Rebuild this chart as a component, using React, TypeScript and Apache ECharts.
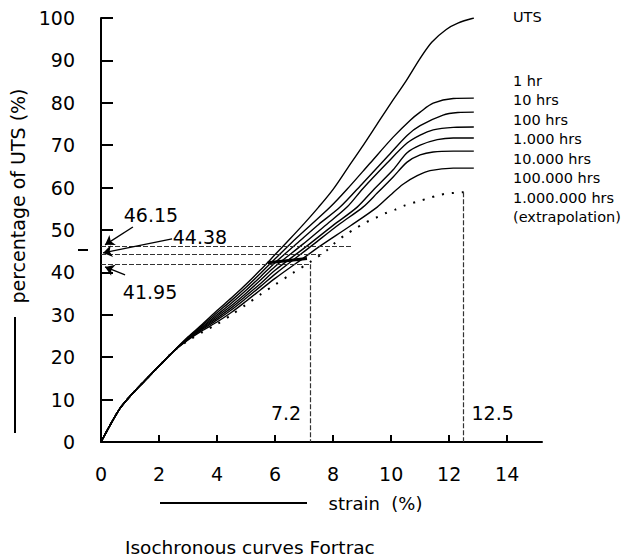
import React, { useEffect, useRef } from "react";
import * as echarts from "echarts";

// ---------- data ----------
const xTickValues = [0, 2, 4, 6, 8, 10, 12, 14];
const xMinorTicks = [2, 4, 6, 8, 10, 12, 14];
const yTickMarks = [10, 20, 30, 40, 50, 60, 70, 80, 90, 100];

const curveNames = ["UTS", "1 hr", "10 hrs", "100 hrs", "1.000 hrs", "10.000 hrs", "100.000 hrs", "1.000.000 hrs"];
const extrapolationNote = "(extrapolation)";

// common initial part of all curves [strain %, % of UTS]
const baseCurve = [[0, 0], [0.3, 3.8], [0.66, 8], [1, 10.8], [1.5, 14.4], [2, 17.9], [2.5, 21.4]];

const utsTail = [[3, 24.8], [3.5, 27.8], [4, 31], [4.5, 34], [5, 37.2], [5.5, 40.6], [6, 44.2], [6.5, 47.8], [7, 51.5], [7.5, 55.4], [8, 59.6], [8.5, 64.6], [9, 69.6], [9.5, 74.8], [10, 80], [10.5, 85], [11, 90.5], [11.4, 94.3], [11.9, 97.3], [12.3, 98.8], [12.85, 100]];
const hr1Tail = [[3, 24.6], [3.5, 27.5], [4, 30.5], [4.5, 33.4], [5, 36.5], [5.5, 39.8], [6, 43.2], [6.55, 46.9], [7.2, 51], [7.9, 55.4], [8.48, 59.6], [9.28, 65.8], [10.07, 71.9], [10.66, 75.9], [11, 77.8], [11.45, 79.9], [12.14, 81], [12.85, 81.1]];
const hr10Tail = [[3, 24.5], [3.5, 27.2], [4, 30], [4.5, 32.8], [5, 35.8], [5.5, 39], [6, 42.3], [6.75, 46.8], [7.5, 51.3], [8.24, 55.4], [9.03, 61.1], [9.86, 67.2], [10.55, 72.3], [11, 74.6], [11.79, 77.1], [12.3, 77.7], [12.85, 77.8]];
const hr100Tail = [[3, 24.4], [3.5, 27], [4, 29.6], [4.5, 32.2], [5, 35.1], [5.5, 38.2], [6, 41.4], [6.95, 46.6], [7.7, 50.9], [8.48, 55.4], [9.03, 59.8], [9.86, 65.8], [10.55, 70.5], [11, 72.4], [11.45, 73.6], [12.14, 74.2], [12.85, 74.3]];
const hr1000Tail = [[3, 24.3], [3.5, 26.8], [4, 29.2], [4.5, 31.7], [5, 34.5], [5.5, 37.4], [6, 40.5], [7.15, 46.5], [8, 51.1], [8.83, 55.4], [9.38, 59.4], [10.07, 64.2], [10.55, 68.2], [11, 70], [11.59, 71.3], [12.14, 71.7], [12.85, 71.7]];
const hr10000Tail = [[3, 24.2], [3.5, 26.6], [4, 28.8], [4.5, 31.2], [5, 33.9], [5.5, 36.7], [6, 39.6], [7.3, 46.5], [8.2, 51.3], [9.03, 55.4], [9.52, 58.7], [10.07, 62.5], [10.55, 66], [11, 67.7], [11.45, 68.4], [12.14, 68.6], [12.85, 68.6]];
const hr100000Tail = [[3, 24.1], [3.5, 26.3], [4, 28.3], [4.5, 30.6], [5, 33.2], [5.5, 35.9], [6, 38.6], [7, 43.5], [7.55, 46.2], [8.6, 51], [9.52, 55.4], [9.97, 58.2], [10.41, 60.8], [10.9, 62.8], [11.34, 64], [12.14, 64.6], [12.85, 64.6]];
const hr1000000Tail = [[3, 23.9], [3.5, 25.9], [4, 27.8], [4.5, 30], [5, 32.4], [5.5, 34.8], [6, 37.1], [6.6, 39.8], [7.2, 42.4], [7.8, 45.3], [8.07, 47], [8.41, 48.8], [8.76, 50.3], [9.1, 51.7], [9.45, 52.8], [9.79, 53.9], [10.14, 54.8], [10.48, 55.8], [10.9, 56.7], [11.24, 57.4], [11.59, 58.1], [11.93, 58.6], [12.5, 58.9]];
const boldSegment = [[5.75, 42.3], [7.1, 43.3]];

// reference levels
const guideLevels = [46.15, 44.38, 41.95];
const guideEnds = [8.65, 7.6, 7.2];
const dropStrains = [7.2, 12.5];
const dropTops = [41.95, 58.9];

// ---------- layout/style (not data) ----------
const FONT = "'DejaVu Sans', Verdana, sans-serif";
const levelLabelPos = [[1.72, 53.5], [3.41, 48.3], [1.69, 35.4]];
const levelArrowFrom = [[1.1, 50.7], [2.45, 47.9], [0.83, 39.4]];
const levelArrowTo = [[0.14, 46.5], [0.07, 44.6], [0.14, 41.3]];
const dropLabelPos = [[6.38, 6.8], [13.5, 6.8]];

export default function App() {
  const ref = useRef<HTMLDivElement>(null);

  useEffect(() => {
    document.body.style.margin = "0";
    if (!ref.current) return;
    const chart = echarts.init(ref.current, null, { renderer: "svg" });

    const tails = [utsTail, hr1Tail, hr10Tail, hr100Tail, hr1000Tail, hr10000Tail, hr100000Tail, hr1000000Tail];
    const curveSeries = curveNames.map((name, i) => ({
      name,
      type: "line",
      data: baseCurve.concat(tails[i]),
      smooth: 0.3,
      showSymbol: false,
      symbol: "none",
      lineStyle: i === 7
        ? { color: "#000", width: 2, type: [2, 8] }
        : { color: "#000", width: 1.4 },
      z: 3,
    }));

    const markLineData: any[] = [];
    guideLevels.forEach((lvl, i) => {
      markLineData.push([{ coord: [0, lvl] }, { coord: [guideEnds[i], lvl] }]);
    });
    dropStrains.forEach((s, i) => {
      markLineData.push([{ coord: [s, dropTops[i]] }, { coord: [s, 0] }]);
    });

    const arrowData: any[] = guideLevels.map((_, i) => [
      { coord: levelArrowFrom[i] },
      { coord: levelArrowTo[i] },
    ]);

    const pointData: any[] = [
      ...guideLevels.map((lvl, i) => ({ coord: levelLabelPos[i], value: lvl.toFixed(2) })),
      ...dropStrains.map((s, i) => ({ coord: dropLabelPos[i], value: String(s) })),
    ];

    const option: any = {
      animation: false,
      textStyle: { fontFamily: FONT },
      grid: { left: 101, right: 83, top: 18, bottom: 118, containLabel: false },
      title: {
        text: "Isochronous curves Fortrac",
        left: 125,
        top: 538,
        padding: 0,
        textStyle: { fontSize: 18.5, fontWeight: "normal", color: "#000", fontFamily: FONT },
      },
      xAxis: {
        type: "value",
        min: 0,
        max: 15.2,
        interval: 2,
        axisLine: { lineStyle: { color: "#000", width: 2 } },
        axisTick: { show: true, inside: true, length: 7, customValues: xMinorTicks, lineStyle: { color: "#000", width: 2 } },
        axisLabel: { customValues: xTickValues, fontSize: 19, color: "#000", margin: 22, fontFamily: FONT },
        splitLine: { show: false },
        name: "strain  (%)",
        nameLocation: "middle",
        nameGap: 52,
        nameTextStyle: { fontSize: 18, color: "#000", fontFamily: FONT, padding: [0, 0, 0, 108] },
      },
      yAxis: {
        type: "value",
        min: 0,
        max: 100,
        interval: 10,
        axisLine: { show: true, lineStyle: { color: "#000", width: 2 } },
        axisTick: { show: true, inside: true, length: 12, customValues: yTickMarks, lineStyle: { color: "#000", width: 2 } },
        axisLabel: { fontSize: 19, color: "#000", margin: 26, fontFamily: FONT },
        splitLine: { show: false },
        name: "percentage of UTS (%)",
        nameLocation: "middle",
        nameGap: 74,
        nameTextStyle: { fontSize: 19, color: "#000", fontFamily: FONT, padding: [0, 0, 0, 68] },
      },
      series: [
        ...curveSeries,
        {
          name: "bold",
          type: "line",
          data: boldSegment,
          showSymbol: false,
          symbol: "none",
          lineStyle: { color: "#000", width: 3 },
          z: 4,
        },
        {
          name: "guides",
          type: "line",
          data: [],
          markLine: {
            silent: true,
            symbol: ["none", "none"],
            label: { show: false },
            lineStyle: { color: "#333", width: 1.2, type: [5, 2] },
            data: markLineData,
          },
        },
        {
          name: "arrows",
          type: "line",
          data: [],
          markLine: {
            silent: true,
            symbol: ["none", "arrow"],
            symbolSize: 9,
            label: { show: false },
            lineStyle: { color: "#000", width: 1.4, type: "solid" },
            data: arrowData,
          },
          markPoint: {
            silent: true,
            symbol: "rect",
            symbolSize: 1,
            itemStyle: { color: "transparent" },
            label: { show: true, position: "inside", fontSize: 19, color: "#000", fontFamily: FONT, formatter: (p: any) => p.value },
            data: pointData,
          },
        },
      ],
      graphic: [
        { type: "line", shape: { x1: 15, y1: 317, x2: 15, y2: 433 }, style: { stroke: "#000", lineWidth: 2 } },
        { type: "line", shape: { x1: 160, y1: 503, x2: 307, y2: 503 }, style: { stroke: "#000", lineWidth: 2 } },
        { type: "line", shape: { x1: 78, y1: 250, x2: 88, y2: 250 }, style: { stroke: "#000", lineWidth: 2 } },
        { type: "text", left: 513, top: 9, style: { text: curveNames[0], fill: "#000", fontSize: 14.5, fontFamily: FONT } },
        {
          type: "text",
          left: 513,
          top: 71,
          style: {
            text: curveNames.slice(1).concat([extrapolationNote]).join("\n"),
            fill: "#000",
            fontSize: 14.5,
            lineHeight: 19.5,
            fontFamily: FONT,
          },
        },
      ],
    };

    chart.setOption(option);
    return () => chart.dispose();
  }, []);

  return <div ref={ref} style={{ width: 625, height: 560 }} />;
}
